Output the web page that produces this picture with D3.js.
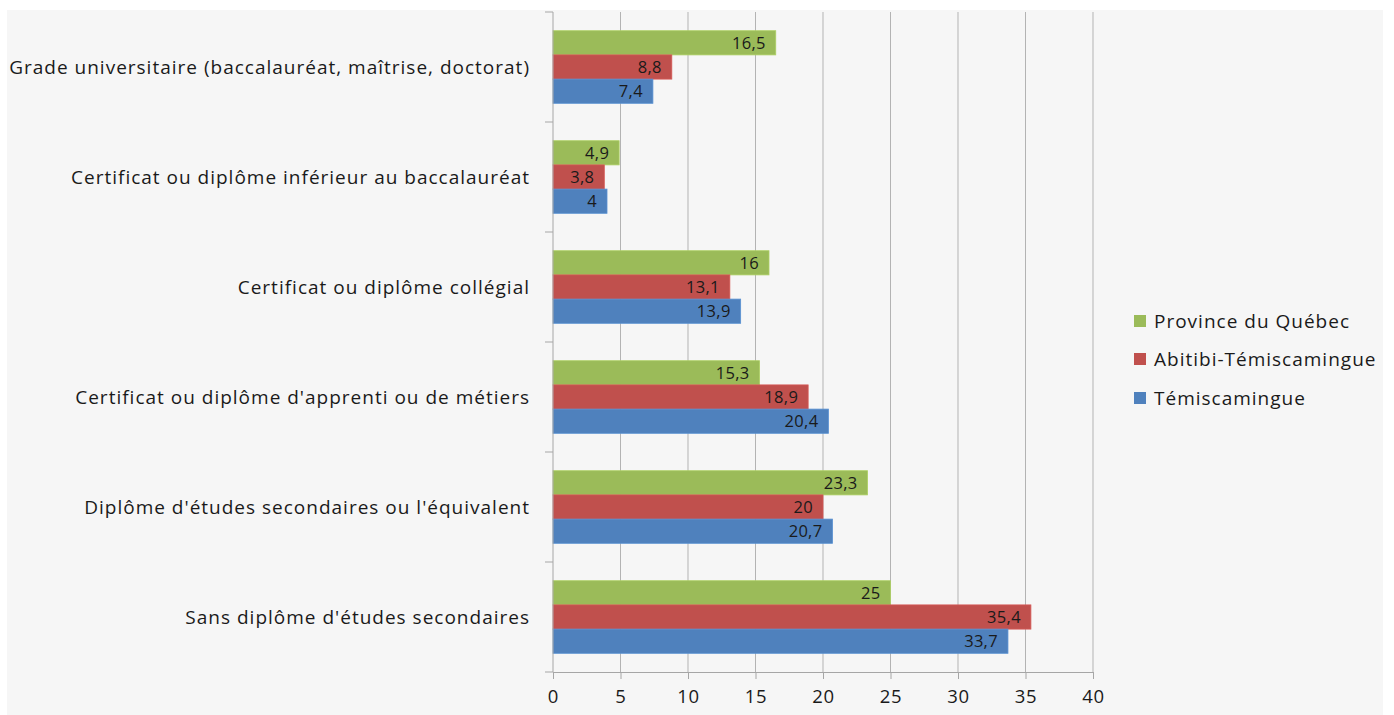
<!DOCTYPE html>
<html>
<head>
<meta charset="utf-8">
<script src="https://cdn.jsdelivr.net/npm/d3@7"></script>
<style>
  body { margin: 0; background: #ffffff; }
  text { font-family: "Open Sans", Lato, sans-serif; fill: #1a1a1a; }
</style>
</head>
<body>
<svg id="chart"></svg>
<script>
var width = 1394;
var height = 715;
var margin = { top : 12, bottom : 43, left : 553, right : 301 };

// data
var categories = [
  "Grade universitaire (baccalauréat, maîtrise, doctorat)",
  "Certificat ou diplôme inférieur au baccalauréat",
  "Certificat ou diplôme collégial",
  "Certificat ou diplôme d'apprenti ou de métiers",
  "Diplôme d'études secondaires ou l'équivalent",
  "Sans diplôme d'études secondaires"
];
var seriesNames = ["Province du Québec", "Abitibi-Témiscamingue", "Témiscamingue"];
var quebec = [16.5, 4.9, 16, 15.3, 23.3, 25];
var abitibi = [8.8, 3.8, 13.1, 18.9, 20, 35.4];
var temisc = [7.4, 4, 13.9, 20.4, 20.7, 33.7];
var xTicks = [0, 5, 10, 15, 20, 25, 30, 35, 40];
var colors = ["#9bbb59", "#c0504d", "#4f81bd"];

var seriesValues = [quebec, abitibi, temisc];
var data = categories.map((c, i) => ({
  category: c,
  values: seriesNames.map((s, j) => ({ series: s, value: seriesValues[j][i] }))
}));

var svg = d3.select('#chart')
  .attr('width', width)
  .attr('height', height);

// grey chart background
svg.append("rect")
  .attr("x", 7).attr("y", 10)
  .attr("width", 1376).attr("height", height - 10)
  .attr("fill", "#f6f6f6");

///////////////////////////////////////////////////////////////
// scales
var x = d3.scaleLinear()
  .domain([0, 40])
  .range([margin.left, width - margin.right]);

var y0 = d3.scaleBand()
  .domain(categories)
  .range([margin.top, height - margin.bottom])
  .paddingInner(0.34)
  .paddingOuter(0.17);

var y1 = d3.scaleBand()
  .domain(seriesNames)
  .range([0, y0.bandwidth()]);

var color = d3.scaleOrdinal().domain(seriesNames).range(colors);

///////////////////////////////////////////////////////////////
// gridlines
svg.append("g")
  .selectAll("line")
  .data(xTicks.slice(1))
  .join("line")
    .attr("x1", d => x(d)).attr("x2", d => x(d))
    .attr("y1", margin.top).attr("y2", height - margin.bottom)
    .attr("stroke", "#b3b3b3")
    .attr("stroke-width", 1);

///////////////////////////////////////////////////////////////
// bars
var groups = svg.append("g")
  .selectAll("g")
  .data(data)
  .join("g")
    .attr("transform", d => "translate(0," + y0(d.category) + ")");

groups.selectAll("rect")
  .data(d => d.values)
  .join("rect")
    .attr("x", x(0))
    .attr("y", d => y1(d.series))
    .attr("width", d => x(d.value) - x(0))
    .attr("height", y1.bandwidth())
    .attr("fill", d => color(d.series))
    .attr("stroke", d => d3.color(color(d.series)).brighter(0.3))
    .attr("stroke-width", 0.8);

// value labels inside bar end
groups.selectAll("text")
  .data(d => d.values)
  .join("text")
    .attr("x", d => x(d.value) - 10)
    .attr("y", d => y1(d.series) + y1.bandwidth() / 2)
    .attr("dy", "0.36em")
    .attr("text-anchor", "end")
    .style("font-size", "16.5px")
    .style("letter-spacing", "0.3px")
    .text(d => String(d.value).replace(".", ","));

///////////////////////////////////////////////////////////////
// x axis
var xAxis = svg.append("g")
  .attr("transform", "translate(0," + (height - margin.bottom) + ")")
  .call(d3.axisBottom(x).tickValues(xTicks).tickSizeInner(7).tickSizeOuter(0).tickPadding(11));
xAxis.select(".domain").attr("stroke", "#a6a6a6");
xAxis.selectAll(".tick line").attr("stroke", "#a6a6a6");
xAxis.selectAll(".tick text")
  .style("font-family", "'Open Sans', sans-serif")
  .style("font-size", "18.5px")
  .style("letter-spacing", "0.8px")
  .attr("fill", "#1a1a1a");

// y axis: line plus ticks at category boundaries
var yAxis = svg.append("g");
yAxis.append("line")
  .attr("x1", x(0)).attr("x2", x(0))
  .attr("y1", margin.top).attr("y2", height - margin.bottom)
  .attr("stroke", "#a6a6a6");
var bounds = categories.map(c => y0(c) - y0.step() * 0.17).concat([height - margin.bottom]);
yAxis.selectAll("line.tick")
  .data(bounds)
  .join("line")
    .attr("class", "tick")
    .attr("x1", x(0) - 8).attr("x2", x(0))
    .attr("y1", d => d).attr("y2", d => d)
    .attr("stroke", "#a6a6a6");

// category labels
svg.append("g")
  .selectAll("text")
  .data(categories)
  .join("text")
    .attr("x", x(0) - 23)
    .attr("y", c => y0(c) + y0.bandwidth() / 2)
    .attr("dy", "0.36em")
    .attr("text-anchor", "end")
    .style("font-size", "19px")
    .style("letter-spacing", "1px")
    .text(c => c);

///////////////////////////////////////////////////////////////
// legend
var legend = svg.append("g")
  .selectAll("g")
  .data(seriesNames)
  .join("g")
    .attr("transform", (d, i) => "translate(1134," + [321, 359, 398][i] + ")");

legend.append("rect")
  .attr("x", 0).attr("y", -6)
  .attr("width", 12).attr("height", 12)
  .attr("fill", d => color(d));

legend.append("text")
  .attr("x", 20)
  .attr("dy", "0.36em")
  .style("font-size", "19px")
  .style("letter-spacing", "1px")
  .text(d => d);
</script>
</body>
</html>
